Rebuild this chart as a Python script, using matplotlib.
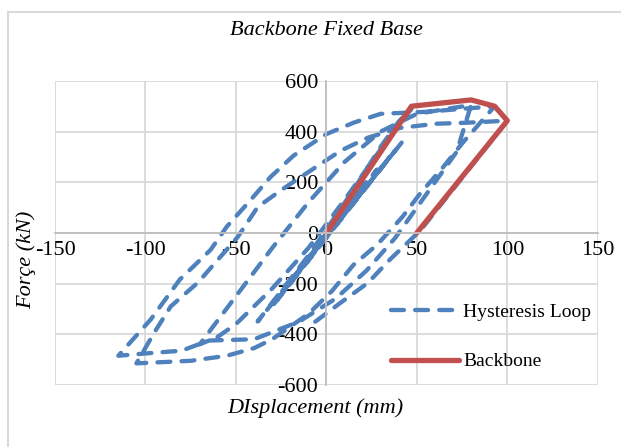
import matplotlib as mpl
mpl.use('Agg')
import matplotlib.pyplot as plt
from matplotlib.patches import Rectangle

mpl.rcParams.update({
    'font.family': 'serif',
    'font.serif': ['Liberation Serif', 'DejaVu Serif'],
    'axes.unicode_minus': False,
})

# hysteresis loop (mm, kN)
hyst_x = [0, 6, -6, 12, -10, 18, -15, 22, -20, 28, -25, 35, -30, 42, -38,
          -10, 15, 30, 40, 47,
          30, 10, -10, -30, -50, -60, -70,
          -50, -30, -10, 10, 30, 50, 80,
          72, 60, 48, 38, 22, 5, -15, -40, -65, -80, -100, -115,
          -97, -81, -64, -55, -42, -31, -18, 0, 15, 30, 55, 93,
          75, 64, 52, 42, 28, 15, 3, -10, -30, -40, -55, -75, -105,
          -95, -86, -71, -49, -38, -25, -10, 8, 23, 41, 61, 78, 100,
          52, 35, 23, 8, -7]
hyst_y = [0, 50, -55, 110, -100, 160, -150, 200, -190, 250, -240, 300, -290, 360, -350,
          -90, 170, 340, 440, 490,
          330, 130, -60, -220, -360, -410, -440,
          -250, -60, 120, 280, 400, 470, 505,
          320, 200, 80, -20, -150, -260, -350, -420, -425, -465, -476, -485,
          -341, -184, -67, 25, 129, 220, 306, 390, 435, 470, 478, 500,
          353, 255, 157, 63, -47, -126, -230, -320, -420, -455, -485, -505, -515,
          -392, -290, -196, -16, 102, 169, 240, 325, 376, 415, 431, 435, 443,
          10, -106, -197, -275, -355]

# backbone curve
bb_x = [0, 47, 80, 93, 100, 50]
bb_y = [0, 500, 525, 500, 443, 0]

xticks = [-150, -100, -50, 0, 50, 100, 150]
yticks = [-600, -400, -200, 0, 200, 400, 600]

fig = plt.figure(figsize=(6.21, 4.47), dpi=100)
ax = fig.add_axes([0.0886, 0.139, 0.874, 0.680])

fig.patches.append(Rectangle((0.013, -0.02), 1.0, 0.993, transform=fig.transFigure,
                             fill=False, edgecolor='#D9D9D9', linewidth=1.5))

ax.plot(hyst_x, hyst_y, color='#4F81BD', linewidth=3.1, linestyle=(0, (3.0, 2.6)),
        dash_capstyle='round', solid_capstyle='round', label='Hysteresis Loop')
ax.plot(bb_x, bb_y, color='#C0504D', linewidth=3.8, solid_capstyle='round',
        solid_joinstyle='round', label='Backbone')

ax.set_xlim(-150, 150)
ax.set_ylim(-600, 600)
ax.set_xticks(xticks)
ax.set_yticks(yticks)
ax.grid(True, color='#D9D9D9', linewidth=1.3)
ax.set_axisbelow(True)

for s in ['top', 'right']:
    ax.spines[s].set_visible(False)
ax.spines['left'].set_position('zero')
ax.spines['bottom'].set_position('zero')
ax.spines['left'].set_color('#BFBFBF')
ax.spines['bottom'].set_color('#BFBFBF')
ax.spines['left'].set_linewidth(1.3)
ax.spines['bottom'].set_linewidth(1.3)
ax.tick_params(length=0, labelsize=16, pad=6)

ax.set_title('Backbone Fixed Base', fontsize=16, style='italic', pad=33)
ax.set_xlabel('DIsplacement (mm)', fontsize=16, style='italic', labelpad=0)
ax.xaxis.set_label_coords(0.48, -0.045)
ax.set_ylabel('Forçe (kN)', fontsize=16, style='italic')
ax.yaxis.set_label_coords(-0.035, 0.41)

ax.legend(loc='lower right', bbox_to_anchor=(1.02, -0.01), frameon=False, fontsize=14,
          handlelength=3.5, labelspacing=1.65, handletextpad=0.2)

plt.savefig('out.png', dpi=100)
